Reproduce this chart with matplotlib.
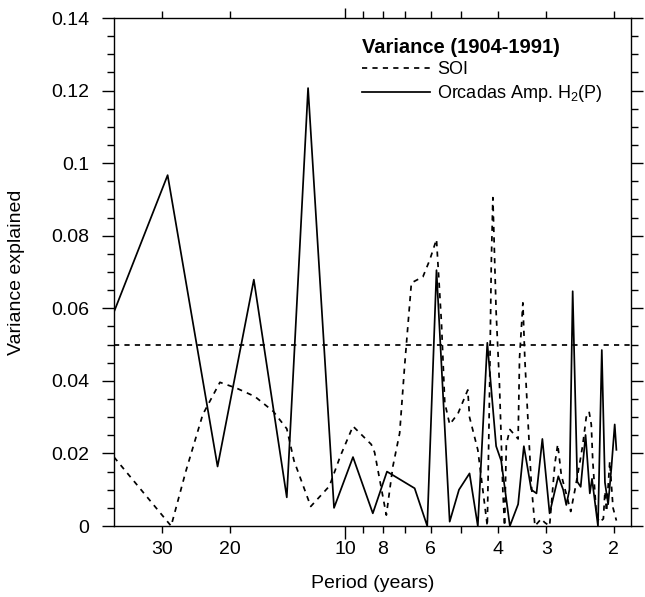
import matplotlib
matplotlib.use("Agg")
import matplotlib.pyplot as plt
from matplotlib.ticker import FixedLocator, FixedFormatter, NullLocator, MultipleLocator

plt.rcParams['font.family'] = ['Liberation Sans', 'DejaVu Sans']
plt.rcParams['mathtext.fontset'] = 'custom'
plt.rcParams['mathtext.rm'] = 'Liberation Sans'
plt.rcParams['mathtext.it'] = 'Liberation Sans:italic'

# ---------------- data ----------------
soi_period = [40.0, 28.4, 26.0, 23.5, 21.2, 19.2, 17.2, 15.4, 14.2, 13.6, 12.3, 11.0,
              10.3, 9.55, 8.56, 8.39, 7.82, 7.52, 7.22, 7.01, 6.73, 6.28, 6.03, 5.79,
              5.62, 5.51, 5.35, 5.09, 4.80, 4.75, 4.52, 4.34, 4.27, 4.21, 4.17, 4.13,
              4.05, 3.97, 3.89, 3.85, 3.81, 3.73, 3.55, 3.52, 3.45, 3.41, 3.35, 3.28,
              3.21, 3.09, 3.03, 2.94, 2.85, 2.80, 2.74, 2.63, 2.59, 2.52, 2.45, 2.41,
              2.36, 2.32, 2.29, 2.27, 2.22, 2.18, 2.13, 2.11, 2.09, 2.05, 2.01, 1.97]
soi_variance = [0.019, 0.0, 0.0151, 0.0307, 0.0396, 0.038, 0.0357, 0.0316, 0.0268, 0.018,
                0.0054, 0.011, 0.0193, 0.0275, 0.0225, 0.0203, 0.003, 0.0164, 0.0256, 0.044,
                0.067, 0.0687, 0.0733, 0.079, 0.056, 0.034, 0.028, 0.031, 0.0375, 0.030,
                0.021, 0.006, 0.0, 0.039, 0.072, 0.0905, 0.059, 0.039, 0.0097, 0.0,
                0.0225, 0.0266, 0.024, 0.0463, 0.0615, 0.046, 0.030, 0.0115, 0.0, 0.002,
                0.001, 0.0, 0.017, 0.0225, 0.014, 0.0068, 0.004, 0.0105, 0.0178, 0.0224,
                0.030, 0.0315, 0.028, 0.018, 0.003, 0.001, 0.002, 0.0095, 0.004, 0.0178,
                0.005, 0.0015]

orcadas_period = [40.0, 29.0, 21.5, 17.3, 14.2, 12.5, 10.7, 9.55, 8.48, 7.79, 6.60, 6.12,
                  5.79, 5.35, 5.06, 4.75, 4.52, 4.27, 4.05, 3.93, 3.73, 3.55, 3.43, 3.28,
                  3.18, 3.07, 2.94, 2.79, 2.71, 2.66, 2.61, 2.56, 2.49, 2.44, 2.37, 2.31,
                  2.28, 2.20, 2.15, 2.11, 2.07, 2.03, 1.99, 1.97]
orcadas_variance = [0.059, 0.0967, 0.0164, 0.0679, 0.0079, 0.1207, 0.005, 0.019, 0.0035,
                    0.015, 0.0104, 0.0, 0.0705, 0.0012, 0.010, 0.0145, 0.0, 0.0505, 0.022,
                    0.018, 0.0, 0.006, 0.022, 0.010, 0.009, 0.024, 0.0035, 0.0137, 0.010,
                    0.0058, 0.010, 0.0647, 0.0122, 0.0108, 0.0251, 0.009, 0.013, 0.0,
                    0.0485, 0.012, 0.006, 0.016, 0.028, 0.021]

significance_level = 0.05

period_ticks = [30, 20, 10, 9, 8, 7, 6, 5, 4, 3, 2]
period_tick_labels = ['30', '20', '10', '', '8', '', '6', '', '4', '3', '2']
variance_ticks = [0, 0.02, 0.04, 0.06, 0.08, 0.10, 0.12, 0.14]
variance_tick_labels = ['0', '0.02', '0.04', '0.06', '0.08', '0.1', '0.12', '0.14']

legend_title = 'Variance (1904-1991)'
soi_label = 'SOI'
orcadas_label = r'Orcadas Amp. H$_{\mathrm{2}}$(P)'

# ---------------- figure ----------------
fig = plt.figure(figsize=(6.45, 5.97), dpi=100)
ax = fig.add_axes([0.1767, 0.1189, 0.8023, 0.8509])

lw = 1.25
soi_line, = ax.plot(soi_period, soi_variance, color='black', lw=lw,
                    linestyle=(0, (3, 3)), label=soi_label)
orc_line, = ax.plot(orcadas_period, orcadas_variance, color='black', lw=lw,
                    linestyle='-', label=orcadas_label)
ax.axhline(significance_level, color='black', lw=lw, linestyle=(0, (3, 3)))

ax.set_xscale('log')
ax.set_xlim(40, 1.8)
ax.set_ylim(0, 0.14)

ax.xaxis.set_major_locator(FixedLocator(period_ticks))
ax.xaxis.set_major_formatter(FixedFormatter(period_tick_labels))
ax.xaxis.set_minor_locator(NullLocator())

ax.yaxis.set_major_locator(FixedLocator(variance_ticks))
ax.yaxis.set_major_formatter(FixedFormatter(variance_tick_labels))
ax.yaxis.set_minor_locator(MultipleLocator(0.005))

for s in ax.spines.values():
    s.set_linewidth(1.0)

ax.tick_params(axis='x', which='major', direction='out', top=True, bottom=True,
               length=5, width=1.0, pad=5.8, labelsize=14)
ax.tick_params(axis='y', which='major', direction='out', left=True, right=True,
               length=8.6, width=1.0, pad=9, labelsize=14, labelright=False)
ax.tick_params(axis='y', which='minor', direction='out', left=True, right=True,
               length=4.8, width=1.0)

# longer tick at 10 years
idx10 = period_ticks.index(10)
t10 = ax.xaxis.get_major_ticks()[idx10]
t10.tick1line.set_markersize(9.4)
t10.tick2line.set_markersize(7.5)

ax.set_xlabel('Period (years)', fontsize=14)
ax.xaxis.set_label_coords(0.5, -0.0965)
ax.set_ylabel('Variance explained', fontsize=14)
ax.yaxis.label.set_va('center')
ax.yaxis.set_label_coords(-0.1874, 0.5)

leg = ax.legend(handles=[soi_line, orc_line], title=legend_title,
                loc='upper left', bbox_to_anchor=(0.479, 0.961),
                frameon=False, fontsize=13, handlelength=3.77, handletextpad=0.39,
                borderpad=0, borderaxespad=0, labelspacing=0.25,
                alignment='left',
                title_fontproperties={'weight': 'bold', 'size': 14.5})

fig.savefig('out.png', dpi=100)
